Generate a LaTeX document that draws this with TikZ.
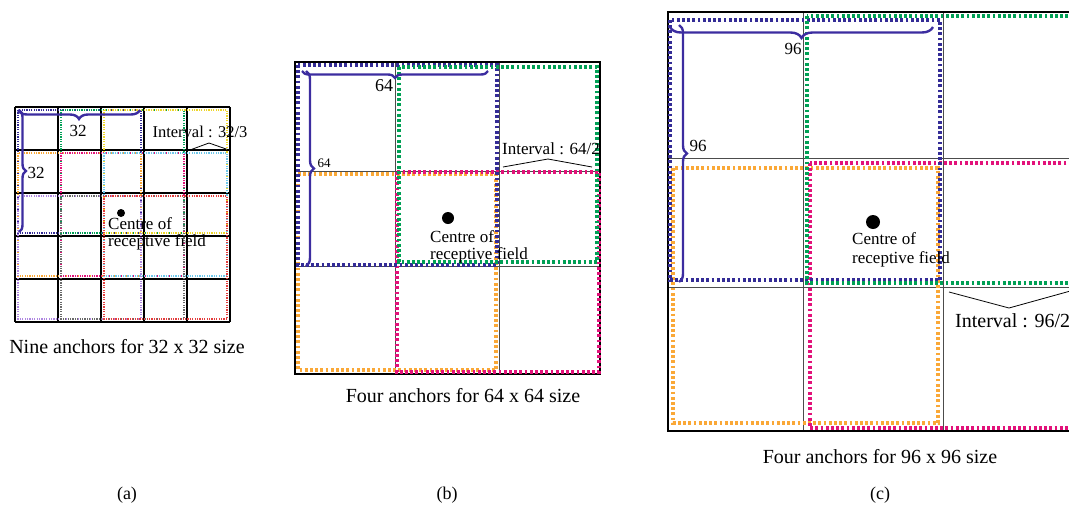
\documentclass[tikz,border=0pt]{standalone}
\usepackage{fontspec}
\setmainfont{Liberation Serif}
\usetikzlibrary{decorations.pathreplacing}

\definecolor{anchorblue}{RGB}{52,44,150}
\definecolor{anchorgreen}{RGB}{0,160,85}
\definecolor{anchororange}{RGB}{250,168,55}
\definecolor{anchorpink}{RGB}{226,18,122}
\definecolor{anchoryellow}{RGB}{238,214,40}
\definecolor{anchorcyan}{RGB}{110,200,235}
\definecolor{anchorred}{RGB}{228,60,60}
\definecolor{anchorlilac}{RGB}{175,135,225}
\definecolor{anchorgrey}{RGB}{105,105,105}
\definecolor{bracecol}{RGB}{60,45,160}

\tikzset{
  thinanchor/.style={line width=1.2pt, dash pattern=on 1.2pt off 1.2pt},
  thickanchor/.style={line width=3.2pt, dash pattern=on 2.8pt off 2.4pt},
  sizebrace/.style={decorate, decoration={brace, amplitude=#1}, line width=2.4pt, bracecol},
  cellline/.style={line width=1pt, black!70},
  hat/.style={line width=0.8pt},
  caption/.style={anchor=base, font=\fontsize{20}{24}\selectfont},
}

\begin{document}
\begin{tikzpicture}[x=1pt, y=-1pt, inner sep=0pt, font=\fontsize{17}{19}\selectfont]
    \useasboundingbox (0,0) rectangle (1069,509);

    % (a) 32 x 32
    \foreach \k in {0,...,5} {
      \draw[line width=1.3pt] (15+43*\k,107) -- (15+43*\k,322);
      \draw[line width=1.3pt] (15,107+43*\k) -- (230,107+43*\k);
    }
    \draw[thinanchor, anchorblue] (18,110) rectangle +(123,123);
    \draw[thinanchor, anchorgreen] (61,110) rectangle +(123,123);
    \draw[thinanchor, anchoryellow] (104,110) rectangle +(123,123);
    \draw[thinanchor, anchororange] (18,153) rectangle +(123,123);
    \draw[thinanchor, anchorpink] (61,153) rectangle +(123,123);
    \draw[thinanchor, anchorcyan] (104,153) rectangle +(123,123);
    \draw[thinanchor, anchorlilac] (18,196) rectangle +(123,123);
    \draw[thinanchor, anchorgrey] (61,196) rectangle +(123,123);
    \draw[thinanchor, anchorred] (104,196) rectangle +(123,123);
    \draw[sizebrace=9] (140,110) -- (18,110);
    \draw[sizebrace=7] (19,110) -- (19,232);
    \node (lenA) at (78,131) {32};
    \node (lenAv) at (36,173) {32};
    \node[font=\fontsize{16.5}{19}\selectfont] (gapA) at (200,132) {Interval : 32/3};
    \coordinate (gapAl) at (190,150);
    \coordinate (gapAt) at (209,143);
    \coordinate (gapAr) at (229,150);
    \draw[hat] (gapAl) -- (gapAt) -- (gapAr);
    \fill (121,213) circle (4);
    \node[anchor=base west] (ctrA) at (108,229) {Centre of};
    \node[anchor=base west] (rfA) at (108,246) {receptive field};
    \node[caption] (capA) at (127,353) {Nine anchors for 32 x 32 size};
    \node[caption, font=\fontsize{18}{22}\selectfont] (tagA) at (127,499) {(a)};

    % (b) 64 x 64
    \draw[cellline] (395,62) -- (395,374) (499,62) -- (499,374)
      (295,171) -- (600,171) (295,266) -- (600,266);
    \draw[line width=1.4pt] (295,62) rectangle (600,374);
    \draw[thickanchor, anchororange] (298,174) rectangle (496,370);
    \draw[thickanchor, anchorpink] (397,172) rectangle (599,372);
    \draw[thickanchor, anchorblue] (298,65) rectangle (497,265);
    \draw[thickanchor, anchorgreen] (399,67) rectangle (597,262);
    \draw[sizebrace=7] (488,71) -- (302,71);
    \draw[sizebrace=8] (306,71) -- (306,266);
    \node[font=\fontsize{18}{20}\selectfont] (lenB) at (384,86) {64};
    \node[font=\fontsize{13}{15}\selectfont] (lenBv) at (324,163) {64};
    \node (gapB) at (551,149) {Interval : 64/2};
    \coordinate (gapBl) at (503,167);
    \coordinate (gapBt) at (548,159);
    \coordinate (gapBr) at (592,167);
    \draw[hat] (gapBl) -- (gapBt) -- (gapBr);
    \fill (448,218) circle (6);
    \node[anchor=base west] (ctrB) at (430,242) {Centre of};
    \node[anchor=base west] (rfB) at (430,259) {receptive field};
    \node[caption] (capB) at (463,402) {Four anchors for 64 x 64 size};
    \node[caption, font=\fontsize{18}{22}\selectfont] (tagB) at (447,499) {(b)};

    % (c) 96 x 96
    \draw[cellline] (803,12) -- (803,431) (943,12) -- (943,431)
      (668,158) -- (1083,158) (668,287) -- (1083,287);
    \draw[line width=1.4pt] (668,12) rectangle (1083,431);
    \draw[thickanchor, anchororange] (673,168) rectangle (938,423);
    \draw[thickanchor, anchorpink] (810,163) rectangle (1110,428);
    \draw[thickanchor, anchorblue] (670,20) rectangle (940,280);
    \draw[thickanchor, anchorgreen] (807,16) rectangle (1110,283);
    \draw[sizebrace=11] (933,27) -- (670,27);
    \draw[sizebrace=8] (679,25) -- (679,282);
    \node (lenC) at (793,49) {96};
    \node (lenCv) at (698,146) {96};
    \node[anchor=base west, font=\fontsize{20}{24}\selectfont] (gapC) at (955,327) {Interval : 96/2};
    \coordinate (gapCl) at (949,292);
    \coordinate (gapCt) at (1009,308);
    \coordinate (gapCr) at (1074,290);
    \draw[hat] (gapCl) -- (gapCt) -- (gapCr);
    \fill (873,222) circle (7);
    \node[anchor=base west] (ctrC) at (852,244) {Centre of};
    \node[anchor=base west] (rfC) at (852,263) {receptive field};
    \node[caption] (capC) at (880,463) {Four anchors for 96 x 96 size};
    \node[caption, font=\fontsize{18}{22}\selectfont] (tagC) at (880,499) {(c)};
\end{tikzpicture}
\end{document}
